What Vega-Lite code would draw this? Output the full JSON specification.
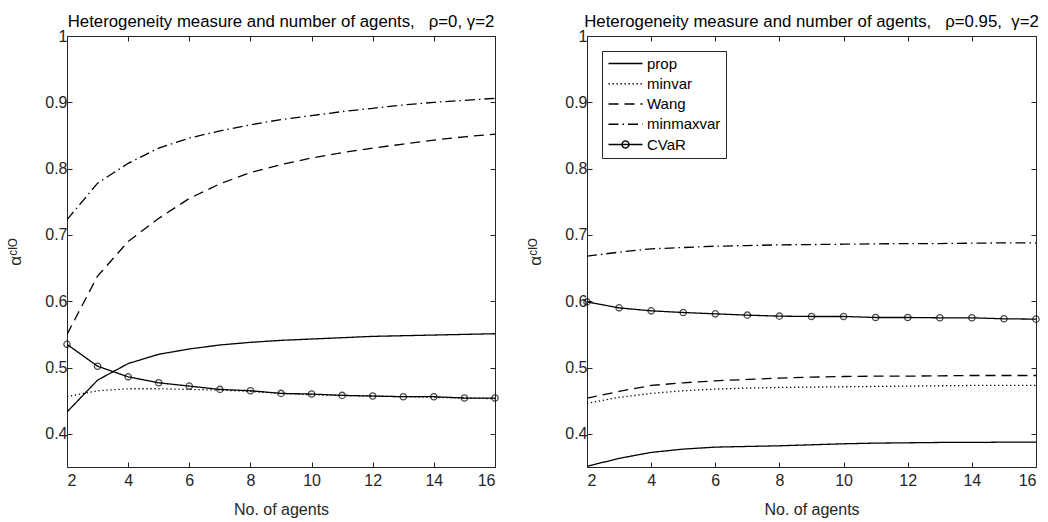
{
  "$schema": "https://vega.github.io/schema/vega-lite/v6.json",
  "padding": {"left": 5, "top": 13, "right": 11, "bottom": 1},
  "background": "white",
  "bounds": "flush",
  "spacing": 92,
  "config": {
    "font": "Liberation Sans",
    "view": {"stroke": "#262626", "strokeWidth": 1},
    "axis": {"domain": false, "grid": false, "tickColor": "#262626", "tickSize": -5, "tickWidth": 1, "labelFontSize": 16, "labelColor": "#262626", "titleFontSize": 16, "titleColor": "#262626", "titleFontWeight": "normal", "labelFont": "Liberation Sans", "titleFont": "Liberation Sans"},
    "axisX": {"labelPadding": 10, "titlePadding": 13},
    "axisY": {"labelPadding": 5, "titleX": -43, "titleFontSize": 17},
    "title": {"fontSize": 16.8, "fontWeight": "normal", "color": "black", "font": "Liberation Sans", "offset": -3}
  },
  "resolve": {"scale": {"strokeDash": "independent"}},
  "datasets": {
    "left": [
      {"series": "prop", "n": 2, "v": 0.433}, {"series": "prop", "n": 3, "v": 0.481}, {"series": "prop", "n": 4, "v": 0.506}, {"series": "prop", "n": 5, "v": 0.520}, {"series": "prop", "n": 6, "v": 0.528}, {"series": "prop", "n": 7, "v": 0.534}, {"series": "prop", "n": 8, "v": 0.538}, {"series": "prop", "n": 9, "v": 0.541}, {"series": "prop", "n": 10, "v": 0.543}, {"series": "prop", "n": 11, "v": 0.545}, {"series": "prop", "n": 12, "v": 0.547}, {"series": "prop", "n": 13, "v": 0.548}, {"series": "prop", "n": 14, "v": 0.549}, {"series": "prop", "n": 15, "v": 0.550}, {"series": "prop", "n": 16, "v": 0.551},
      {"series": "minvar", "n": 2, "v": 0.456}, {"series": "minvar", "n": 3, "v": 0.465}, {"series": "minvar", "n": 4, "v": 0.468}, {"series": "minvar", "n": 5, "v": 0.468}, {"series": "minvar", "n": 6, "v": 0.467}, {"series": "minvar", "n": 7, "v": 0.466}, {"series": "minvar", "n": 8, "v": 0.464}, {"series": "minvar", "n": 9, "v": 0.461}, {"series": "minvar", "n": 10, "v": 0.459}, {"series": "minvar", "n": 11, "v": 0.458}, {"series": "minvar", "n": 12, "v": 0.457}, {"series": "minvar", "n": 13, "v": 0.456}, {"series": "minvar", "n": 14, "v": 0.455}, {"series": "minvar", "n": 15, "v": 0.454}, {"series": "minvar", "n": 16, "v": 0.453},
      {"series": "Wang", "n": 2, "v": 0.550}, {"series": "Wang", "n": 3, "v": 0.638}, {"series": "Wang", "n": 4, "v": 0.690}, {"series": "Wang", "n": 5, "v": 0.725}, {"series": "Wang", "n": 6, "v": 0.755}, {"series": "Wang", "n": 7, "v": 0.777}, {"series": "Wang", "n": 8, "v": 0.794}, {"series": "Wang", "n": 9, "v": 0.806}, {"series": "Wang", "n": 10, "v": 0.816}, {"series": "Wang", "n": 11, "v": 0.824}, {"series": "Wang", "n": 12, "v": 0.831}, {"series": "Wang", "n": 13, "v": 0.837}, {"series": "Wang", "n": 14, "v": 0.843}, {"series": "Wang", "n": 15, "v": 0.848}, {"series": "Wang", "n": 16, "v": 0.852},
      {"series": "minmaxvar", "n": 2, "v": 0.723}, {"series": "minmaxvar", "n": 3, "v": 0.778}, {"series": "minmaxvar", "n": 4, "v": 0.808}, {"series": "minmaxvar", "n": 5, "v": 0.831}, {"series": "minmaxvar", "n": 6, "v": 0.846}, {"series": "minmaxvar", "n": 7, "v": 0.857}, {"series": "minmaxvar", "n": 8, "v": 0.866}, {"series": "minmaxvar", "n": 9, "v": 0.874}, {"series": "minmaxvar", "n": 10, "v": 0.880}, {"series": "minmaxvar", "n": 11, "v": 0.886}, {"series": "minmaxvar", "n": 12, "v": 0.891}, {"series": "minmaxvar", "n": 13, "v": 0.896}, {"series": "minmaxvar", "n": 14, "v": 0.900}, {"series": "minmaxvar", "n": 15, "v": 0.903}, {"series": "minmaxvar", "n": 16, "v": 0.906},
      {"series": "CVaR", "n": 2, "v": 0.535}, {"series": "CVaR", "n": 3, "v": 0.502}, {"series": "CVaR", "n": 4, "v": 0.486}, {"series": "CVaR", "n": 5, "v": 0.477}, {"series": "CVaR", "n": 6, "v": 0.472}, {"series": "CVaR", "n": 7, "v": 0.467}, {"series": "CVaR", "n": 8, "v": 0.465}, {"series": "CVaR", "n": 9, "v": 0.461}, {"series": "CVaR", "n": 10, "v": 0.460}, {"series": "CVaR", "n": 11, "v": 0.458}, {"series": "CVaR", "n": 12, "v": 0.457}, {"series": "CVaR", "n": 13, "v": 0.456}, {"series": "CVaR", "n": 14, "v": 0.456}, {"series": "CVaR", "n": 15, "v": 0.454}, {"series": "CVaR", "n": 16, "v": 0.454}
    ],
    "right": [
      {"series": "prop", "n": 2, "v": 0.351}, {"series": "prop", "n": 3, "v": 0.363}, {"series": "prop", "n": 4, "v": 0.372}, {"series": "prop", "n": 5, "v": 0.377}, {"series": "prop", "n": 6, "v": 0.380}, {"series": "prop", "n": 7, "v": 0.381}, {"series": "prop", "n": 8, "v": 0.382}, {"series": "prop", "n": 9, "v": 0.3835}, {"series": "prop", "n": 10, "v": 0.385}, {"series": "prop", "n": 11, "v": 0.386}, {"series": "prop", "n": 12, "v": 0.3865}, {"series": "prop", "n": 13, "v": 0.387}, {"series": "prop", "n": 14, "v": 0.387}, {"series": "prop", "n": 15, "v": 0.3875}, {"series": "prop", "n": 16, "v": 0.3875},
      {"series": "minvar", "n": 2, "v": 0.446}, {"series": "minvar", "n": 3, "v": 0.455}, {"series": "minvar", "n": 4, "v": 0.461}, {"series": "minvar", "n": 5, "v": 0.465}, {"series": "minvar", "n": 6, "v": 0.4675}, {"series": "minvar", "n": 7, "v": 0.469}, {"series": "minvar", "n": 8, "v": 0.470}, {"series": "minvar", "n": 9, "v": 0.4705}, {"series": "minvar", "n": 10, "v": 0.471}, {"series": "minvar", "n": 11, "v": 0.4715}, {"series": "minvar", "n": 12, "v": 0.472}, {"series": "minvar", "n": 13, "v": 0.4725}, {"series": "minvar", "n": 14, "v": 0.473}, {"series": "minvar", "n": 15, "v": 0.473}, {"series": "minvar", "n": 16, "v": 0.473},
      {"series": "Wang", "n": 2, "v": 0.454}, {"series": "Wang", "n": 3, "v": 0.464}, {"series": "Wang", "n": 4, "v": 0.473}, {"series": "Wang", "n": 5, "v": 0.477}, {"series": "Wang", "n": 6, "v": 0.480}, {"series": "Wang", "n": 7, "v": 0.482}, {"series": "Wang", "n": 8, "v": 0.484}, {"series": "Wang", "n": 9, "v": 0.4855}, {"series": "Wang", "n": 10, "v": 0.4865}, {"series": "Wang", "n": 11, "v": 0.487}, {"series": "Wang", "n": 12, "v": 0.487}, {"series": "Wang", "n": 13, "v": 0.4875}, {"series": "Wang", "n": 14, "v": 0.488}, {"series": "Wang", "n": 15, "v": 0.488}, {"series": "Wang", "n": 16, "v": 0.488},
      {"series": "minmaxvar", "n": 2, "v": 0.668}, {"series": "minmaxvar", "n": 3, "v": 0.674}, {"series": "minmaxvar", "n": 4, "v": 0.679}, {"series": "minmaxvar", "n": 5, "v": 0.681}, {"series": "minmaxvar", "n": 6, "v": 0.683}, {"series": "minmaxvar", "n": 7, "v": 0.684}, {"series": "minmaxvar", "n": 8, "v": 0.685}, {"series": "minmaxvar", "n": 9, "v": 0.6855}, {"series": "minmaxvar", "n": 10, "v": 0.686}, {"series": "minmaxvar", "n": 11, "v": 0.6865}, {"series": "minmaxvar", "n": 12, "v": 0.687}, {"series": "minmaxvar", "n": 13, "v": 0.687}, {"series": "minmaxvar", "n": 14, "v": 0.6875}, {"series": "minmaxvar", "n": 15, "v": 0.688}, {"series": "minmaxvar", "n": 16, "v": 0.688},
      {"series": "CVaR", "n": 2, "v": 0.599}, {"series": "CVaR", "n": 3, "v": 0.590}, {"series": "CVaR", "n": 4, "v": 0.5855}, {"series": "CVaR", "n": 5, "v": 0.583}, {"series": "CVaR", "n": 6, "v": 0.581}, {"series": "CVaR", "n": 7, "v": 0.579}, {"series": "CVaR", "n": 8, "v": 0.5775}, {"series": "CVaR", "n": 9, "v": 0.577}, {"series": "CVaR", "n": 10, "v": 0.577}, {"series": "CVaR", "n": 11, "v": 0.5755}, {"series": "CVaR", "n": 12, "v": 0.5755}, {"series": "CVaR", "n": 13, "v": 0.575}, {"series": "CVaR", "n": 14, "v": 0.575}, {"series": "CVaR", "n": 15, "v": 0.5735}, {"series": "CVaR", "n": 16, "v": 0.573}
    ]
  },
  "hconcat": [
    {
      "width": 428,
      "height": 431,
      "title": {"text": "Heterogeneity measure and number of agents,\u00a0\u00a0\u00a0ρ=0, γ=2"},
      "data": {"name": "left"},
      "layer": [
        {
          "mark": {"type": "line", "color": "black", "strokeWidth": 1.3, "clip": true},
          "encoding": {
            "x": {"field": "n", "type": "quantitative", "scale": {"domain": [2, 16], "nice": false}, "axis": {"orient": "bottom", "values": [2, 4, 6, 8, 10, 12, 14, 16], "title": "No. of agents"}},
            "y": {"field": "v", "type": "quantitative", "scale": {"domain": [0.35, 1], "nice": false, "zero": false}, "axis": {"orient": "left", "values": [0.4, 0.5, 0.6, 0.7, 0.8, 0.9, 1], "format": "~g", "title": "αᶜᴵᴼ"}},
            "strokeDash": {"field": "series", "type": "nominal", "scale": {"domain": ["prop", "minvar", "Wang", "minmaxvar", "CVaR"], "range": [[1, 0], [1.3, 2.7], [10, 6], [10, 4, 1.5, 4], [1, 0]]}, "legend": null}
          }
        },
        {
          "transform": [{"filter": "datum.series === 'CVaR'"}],
          "mark": {"type": "point", "shape": "circle", "filled": false, "color": "black", "size": 40, "strokeWidth": 1.3},
          "encoding": {
            "x": {"field": "n", "type": "quantitative", "scale": {"domain": [2, 16], "nice": false}, "axis": {"orient": "top", "values": [2, 4, 6, 8, 10, 12, 14, 16], "labels": false, "title": null}},
            "y": {"field": "v", "type": "quantitative", "scale": {"domain": [0.35, 1], "nice": false, "zero": false}, "axis": {"orient": "right", "values": [0.4, 0.5, 0.6, 0.7, 0.8, 0.9, 1], "labels": false, "title": null}}
          }
        }
      ],
      "resolve": {"axis": {"x": "independent", "y": "independent"}}
    },
    {
      "width": 449,
      "height": 431,
      "title": {"text": "Heterogeneity measure and number of agents,\u00a0\u00a0\u00a0ρ=0.95,\u00a0\u00a0γ=2"},
      "data": {"name": "right"},
      "layer": [
        {
          "mark": {"type": "line", "color": "black", "strokeWidth": 1.3, "clip": true},
          "encoding": {
            "x": {"field": "n", "type": "quantitative", "scale": {"domain": [2, 16], "nice": false}, "axis": {"orient": "bottom", "values": [2, 4, 6, 8, 10, 12, 14, 16], "title": "No. of agents"}},
            "y": {"field": "v", "type": "quantitative", "scale": {"domain": [0.35, 1], "nice": false, "zero": false}, "axis": {"orient": "left", "values": [0.4, 0.5, 0.6, 0.7, 0.8, 0.9, 1], "format": "~g", "title": "αᶜᴵᴼ"}},
            "strokeDash": {
              "field": "series", "type": "nominal",
              "scale": {"domain": ["prop", "minvar", "Wang", "minmaxvar", "CVaR"], "range": [[1, 0], [1.3, 2.7], [10, 6], [10, 4, 1.5, 4], [1, 0]]},
              "legend": {
                "orient": "top-left", "offset": 15, "title": null, "padding": 5, "rowPadding": 4.25,
                "strokeColor": "#262626", "fillColor": "white", "cornerRadius": 0,
                "labelFontSize": 15, "labelColor": "black", "labelFont": "Liberation Sans", "labelOffset": 25,
                "symbolSize": 100, "symbolStrokeWidth": 1.3, "symbolStrokeColor": "black", "symbolFillColor": "transparent",
                "encode": {
                  "symbols": {
                    "update": {
                      "shape": {"signal": "datum.value === 'CVaR' ? 'M-1.2,0H5.6M2.9,0A0.7,0.7 0 1,1 1.5,0A0.7,0.7 0 1,1 2.9,0' : 'M-1.2,0H5.6'"}
                    }
                  }
                }
              }
            }
          }
        },
        {
          "transform": [{"filter": "datum.series === 'CVaR'"}],
          "mark": {"type": "point", "shape": "circle", "filled": false, "color": "black", "size": 40, "strokeWidth": 1.3},
          "encoding": {
            "x": {"field": "n", "type": "quantitative", "scale": {"domain": [2, 16], "nice": false}, "axis": {"orient": "top", "values": [2, 4, 6, 8, 10, 12, 14, 16], "labels": false, "title": null}},
            "y": {"field": "v", "type": "quantitative", "scale": {"domain": [0.35, 1], "nice": false, "zero": false}, "axis": {"orient": "right", "values": [0.4, 0.5, 0.6, 0.7, 0.8, 0.9, 1], "labels": false, "title": null}}
          }
        }
      ],
      "resolve": {"axis": {"x": "independent", "y": "independent"}}
    }
  ]
}
